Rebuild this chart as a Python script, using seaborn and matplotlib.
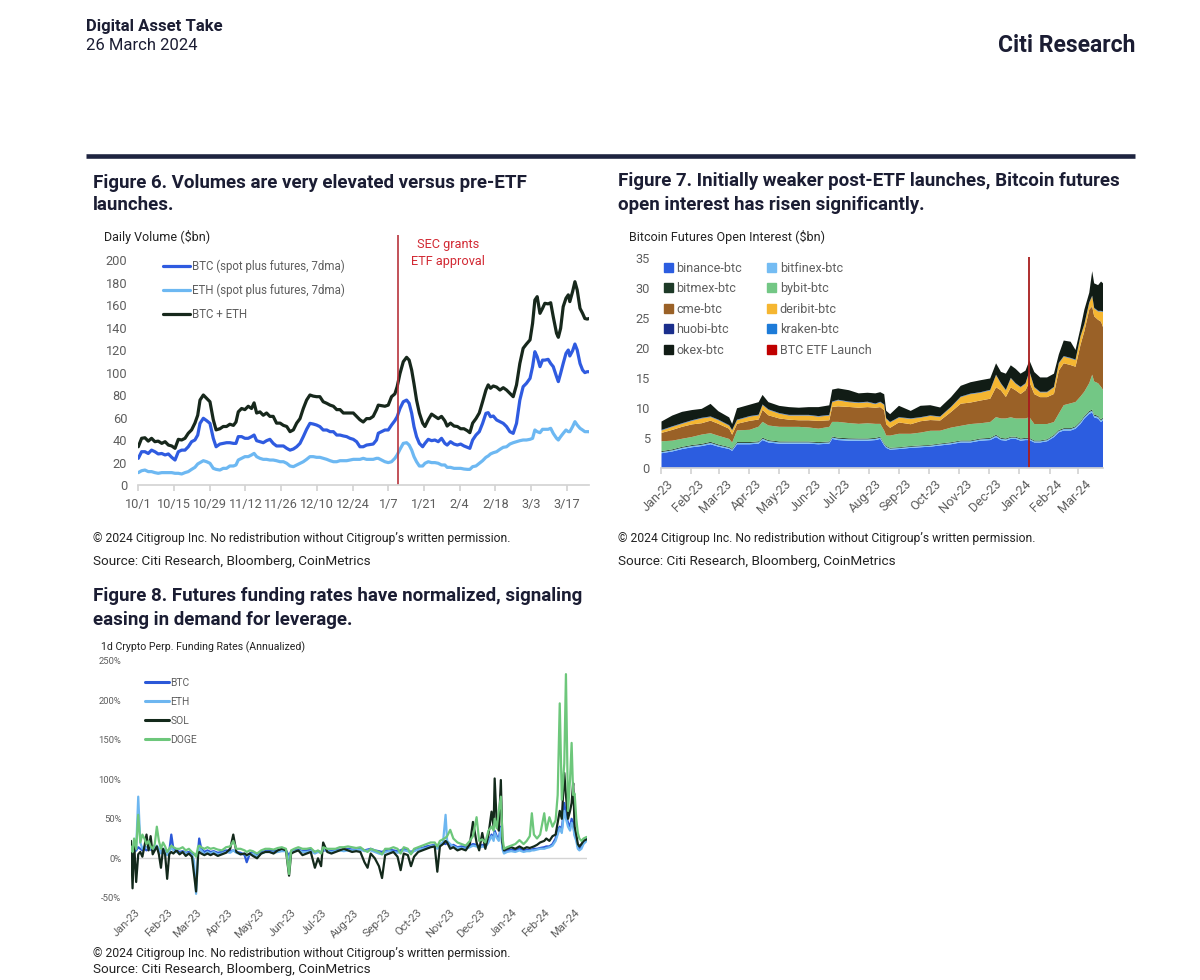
import pandas as pd
import seaborn as sns
import matplotlib.pyplot as plt
from matplotlib.lines import Line2D
from matplotlib.patches import Patch
from matplotlib.transforms import ScaledTranslation

# ---------------- Figure 6: daily volume ($bn), days since 1 Oct 2023 ----------------
vol_day = [0.0, 1.3, 2.6, 3.9, 5.2, 6.5, 7.8, 9.2, 10.5, 11.8, 13.1, 14.4, 15.7, 17.0, 18.3, 19.6,
           20.9, 22.2, 23.3, 24.2, 25.5, 26.8, 28.1, 29.4, 30.5, 32.0, 33.3, 34.6, 35.9, 37.3, 38.3,
           39.2, 40.5, 41.8, 43.1, 44.4, 45.4, 46.4, 47.7, 49.0, 50.3, 51.6, 52.9, 54.2, 55.6, 56.9,
           58.2, 59.5, 60.8, 62.1, 63.4, 64.7, 66.0, 67.3, 68.6, 69.9, 71.2, 72.5, 73.9, 75.2, 76.5,
           77.8, 79.1, 80.4, 81.7, 83.0, 84.3, 85.6, 86.9, 88.2, 89.5,
           90.8, 92.1, 93.4, 94.1, 95.4, 96.7, 98.0, 99.3, 100.6, 101.5, 102.6, 103.9, 105.2, 106.2,
           107.2, 108.1, 109.1, 110.2, 111.5, 112.4, 113.7, 115.0, 116.3, 117.6, 118.9, 120.2, 121.1,
           122.4, 123.8, 125.1, 126.4, 127.7, 129.0, 130.0, 131.1, 132.4, 133.7, 135.0, 136.3, 137.2,
           138.1, 139.2, 140.5, 141.8, 143.1, 144.4, 145.7, 147.0, 148.3, 149.6, 150.9, 152.2, 153.6,
           154.6, 155.5, 156.4, 157.5, 158.5, 159.4, 160.7, 161.7, 162.7, 164.0, 164.7, 165.6, 166.6,
           167.7, 168.6, 169.2, 170.3, 171.2, 172.1, 173.2, 174.2, 175.1, 176.0, 176.8]
vol_btc = [23.7, 29.6, 29.6, 28, 31, 29.6, 27.6, 28, 26.7, 27.6, 24.6, 22.2, 29.6, 31, 31, 34,
           38.5, 40, 44.4, 54.8, 59.3, 57.2, 54.8, 41.5, 34, 36.4, 37, 37.6, 37.6, 37, 37, 43, 43,
           41.5, 41.5, 43, 44.4, 39.4, 38.5, 37.6, 39.4, 40.6, 37, 34.7, 34.7, 34.7, 32.6, 31, 32,
           34, 37, 43, 49.5, 54.8, 54.2, 53.3, 51.9, 48.9, 48.9, 47.4, 47.4, 44.4, 44.4, 43.6, 43,
           41.5, 40.6, 38.5, 34, 34, 35.5,
           36, 36.4, 40, 46, 47.4, 48.9, 48.9, 53.3, 57.2, 60.7, 68, 74, 75.5, 72.6, 63.7, 51.9, 43,
           37, 34, 37, 40.6, 39.4, 40, 38.5, 41.5, 37, 35.5, 38.5, 36.4, 35.5, 36.4, 34.7, 33.5,
           32.6, 40, 44.4, 47.4, 54.8, 63.7, 64.3, 60.7, 61.3, 57.8, 56.3, 54.8, 51.9, 47.4, 45.9,
           54.8, 75.5, 87.4, 90.4, 94.8, 105.2, 118.5, 114, 105.2, 111, 111, 111.7, 108, 105.2,
           96.3, 91.9, 99.3, 108, 117, 120, 114.7, 119.4, 125.3, 120, 108, 102.2, 99.9, 100.7, 100.7]
vol_eth = [11, 12.7, 13.3, 11.9, 11.9, 11, 10.4, 11, 11, 11, 11, 10.4, 10.4, 9.8, 11, 11.9, 13.9,
           15.7, 18.7, 19.9, 21.6, 20.7, 19.3, 14.8, 13.9, 13.3, 14.8, 14.8, 16.9, 16.9, 17.8, 22.2,
           23.7, 25.2, 25.2, 26.7, 28.1, 25.2, 23.7, 22.8, 22.8, 22.2, 22.2, 21.6, 20.7, 20.7, 19.3,
           16.9, 16.3, 17.8, 19.3, 20.7, 22.8, 25.2, 25.2, 24.6, 24.6, 23.7, 22.8, 21.6, 20.7, 20.7,
           21.6, 21.6, 21.6, 22.2, 22.8, 22.8, 22.8, 23.7, 22.8,
           22.8, 22.8, 23.7, 23.7, 22.2, 20.7, 19.9, 20.7, 23.7, 26.7, 31.7, 37, 37.6, 35.5, 31,
           25.2, 20.7, 16.9, 16.9, 19.3, 20.7, 19.9, 19.9, 19.3, 17.8, 17.8, 15.7, 15.7, 14.8, 14.8,
           14.8, 14.2, 13.9, 13.9, 16.3, 16.9, 19.3, 21.6, 24.6, 25.8, 27.6, 28.7, 29.6, 31.7, 33.5,
           34, 36.4, 37.6, 38.5, 39.4, 40, 40, 40.6, 41.5, 48.9, 47.4, 46.5, 49.5, 49.5, 49.5, 50.4,
           45.9, 41.5, 40, 43, 45.9, 48.9, 47.4, 47.4, 51.9, 56.3, 53.3, 50.4, 48.9, 47.4, 47.4, 47.4]
vol_total = [34, 41.5, 42, 39, 41.5, 38.5, 39, 37, 38.5, 35.5, 34.7, 32.6, 40.6, 40, 41.5, 46, 49,
             55, 62, 75.5, 80, 77, 74, 58, 49, 50, 52, 52, 54, 53, 56, 65, 68, 67, 70, 68, 73, 64,
             65, 62, 64, 61, 61, 55, 55, 53, 52, 47.4, 49, 55, 59, 68, 75.5, 80, 79, 78.5, 78.5, 74,
             72.6, 71, 70, 67, 67, 64, 64, 64, 64, 61, 58, 56, 59,
             59, 61, 67, 71, 70.5, 70, 71, 78.5, 81, 87.4, 99, 109.6, 113.5, 111, 102, 90, 75.5, 64,
             55, 52, 58, 63, 61, 59, 61, 57, 52.4, 55, 52.4, 52, 50, 50, 48.3, 46.5, 55, 59, 64, 74,
             84.4, 89, 86, 88, 87, 84.4, 86.5, 84.4, 81.5, 78.5, 89, 108, 121.5, 125.3, 129, 143.7,
             164.4, 167.4, 152.6, 157, 161.5, 161, 162, 149.6, 134.8, 131.3, 139.3, 158.5, 166, 169,
             163, 172, 180.7, 173.3, 157, 152.6, 148, 147.5, 148]
vol_labels = ["BTC (spot plus futures, 7dma)", "ETH (spot plus futures, 7dma)", "BTC + ETH"]

# ---------------- Figure 7: BTC futures open interest ($bn), days since 1 Jan 2023 ----------------
oi_day = [0, 11, 21, 31, 41, 50, 58, 69, 72, 77, 90, 99, 103, 109, 120, 130, 140, 150, 160, 171,
          174, 180, 191, 201, 210, 218, 223, 227, 229, 233, 242, 254, 264, 274, 284, 295, 305, 315,
          325, 335, 341, 346, 351, 356, 361, 366, 371, 375, 380, 386, 393, 400, 405, 410, 417, 422,
          427, 431, 436, 439, 441, 445, 448, 450]
oi_binance = [2.5, 2.8, 3.2, 3.5, 3.7, 4.0, 3.6, 3.2, 2.9, 4.0, 4.0, 4.1, 4.7, 4.3, 4.1, 4.1, 4.1,
              4.1, 4.0, 4.1, 4.9, 4.7, 4.6, 4.6, 4.6, 4.7, 4.9, 3.8, 3.4, 3.1, 3.2, 3.4, 3.5, 3.6,
              3.8, 4.0, 4.3, 4.3, 4.6, 4.7, 5.2, 4.7, 4.6, 4.9, 4.9, 4.6, 4.7, 4.7, 4.3, 4.3, 4.5,
              5.2, 6.0, 6.3, 6.3, 6.6, 7.4, 8.3, 9.1, 9.3, 8.5, 8.3, 7.7, 8.0]
oi_bitfinex = [0.20, 0.20, 0.22, 0.22, 0.22, 0.24, 0.22, 0.20, 0.20, 0.22, 0.22, 0.24, 0.24, 0.24,
               0.22, 0.22, 0.22, 0.22, 0.22, 0.22, 0.24, 0.24, 0.24, 0.22, 0.22, 0.22, 0.22, 0.20,
               0.20, 0.18, 0.18, 0.18, 0.18, 0.18, 0.20, 0.20, 0.20, 0.20, 0.22, 0.22, 0.24, 0.22,
               0.22, 0.22, 0.22, 0.22, 0.22, 0.22, 0.20, 0.20, 0.20, 0.22, 0.24, 0.24, 0.24, 0.26,
               0.26, 0.28, 0.30, 0.30, 0.28, 0.28, 0.28, 0.28]
oi_bitmex = [0.15, 0.15, 0.15, 0.15, 0.15, 0.16, 0.15, 0.14, 0.14, 0.15, 0.15, 0.15, 0.16, 0.15,
             0.15, 0.14, 0.14, 0.14, 0.14, 0.14, 0.15, 0.15, 0.15, 0.14, 0.14, 0.14, 0.14, 0.13,
             0.12, 0.12, 0.12, 0.12, 0.12, 0.12, 0.12, 0.13, 0.13, 0.13, 0.14, 0.14, 0.15, 0.14,
             0.14, 0.14, 0.14, 0.14, 0.14, 0.15, 0.13, 0.13, 0.13, 0.14, 0.15, 0.15, 0.15, 0.15,
             0.16, 0.17, 0.18, 0.18, 0.17, 0.17, 0.17, 0.17]
oi_bybit = [1.65, 1.45, 1.35, 1.35, 1.55, 1.45, 1.45, 1.35, 1.05, 1.95, 2.05, 2.45, 2.65, 2.45,
            2.45, 2.45, 2.45, 2.35, 2.25, 2.45, 2.45, 2.65, 2.55, 2.45, 2.55, 2.35, 2.15, 2.15,
            1.75, 2.05, 2.25, 2.05, 2.15, 2.35, 2.15, 2.45, 2.45, 2.75, 2.55, 2.65, 2.95, 3.25,
            3.35, 3.25, 3.05, 3.35, 3.25, 3.45, 2.75, 2.75, 2.55, 2.15, 2.75, 3.85, 4.15, 4.05,
            4.15, 4.05, 4.65, 5.85, 5.55, 5.45, 5.45, 4.65]
oi_cme = [1.4, 1.8, 2.0, 2.1, 1.9, 2.1, 2.0, 1.7, 1.3, 1.1, 1.5, 1.2, 2.0, 1.7, 1.4, 1.2, 1.1, 1.2,
          1.3, 1.1, 2.5, 2.6, 2.7, 2.7, 2.7, 2.7, 2.8, 3.4, 1.9, 1.3, 1.9, 1.6, 1.9, 1.8, 1.7, 2.6,
          3.7, 3.6, 3.8, 3.9, 5.0, 4.7, 3.6, 5.0, 4.7, 4.1, 4.7, 5.9, 5.0, 4.5, 4.5, 4.7, 7.2, 7.0,
          6.4, 5.9, 8.6, 10.1, 12.3, 11.4, 10.9, 10.6, 10.9, 10.5]
oi_deribit = [0.4, 0.5, 0.5, 0.6, 0.8, 0.6, 0.6, 0.5, 0.7, 0.6, 0.7, 0.7, 0.8, 0.9, 0.8, 0.7, 0.8,
              0.8, 0.7, 0.8, 0.8, 1.0, 0.8, 0.8, 0.8, 0.6, 0.8, 0.9, 0.9, 0.9, 0.8, 0.9, 0.6, 0.7,
              0.6, 0.8, 1.1, 1.4, 1.3, 1.4, 2.0, 1.1, 1.1, 1.5, 1.1, 1.1, 1.1, 1.7, 1.1, 0.8, 0.8,
              1.1, 1.2, 1.1, 1.1, 1.1, 1.4, 1.1, 1.1, 1.7, 1.3, 1.4, 1.7, 2.5]
oi_huobi = [0.04, 0.04, 0.04, 0.04, 0.04, 0.04, 0.04, 0.04, 0.04, 0.04, 0.04, 0.04, 0.04, 0.04,
            0.04, 0.04, 0.04, 0.04, 0.04, 0.04, 0.04, 0.04, 0.04, 0.04, 0.04, 0.04, 0.04, 0.03,
            0.03, 0.03, 0.03, 0.03, 0.03, 0.03, 0.03, 0.03, 0.03, 0.03, 0.03, 0.03, 0.03, 0.03,
            0.03, 0.03, 0.03, 0.03, 0.03, 0.03, 0.03, 0.03, 0.03, 0.03, 0.03, 0.03, 0.03, 0.03,
            0.03, 0.03, 0.03, 0.03, 0.03, 0.03, 0.03, 0.03]
oi_kraken = [0.06, 0.06, 0.06, 0.06, 0.06, 0.06, 0.06, 0.06, 0.06, 0.06, 0.06, 0.06, 0.06, 0.06,
             0.06, 0.06, 0.06, 0.06, 0.06, 0.06, 0.06, 0.06, 0.06, 0.06, 0.06, 0.06, 0.06, 0.05,
             0.05, 0.05, 0.05, 0.05, 0.05, 0.05, 0.05, 0.05, 0.06, 0.06, 0.06, 0.06, 0.06, 0.06,
             0.06, 0.06, 0.06, 0.06, 0.06, 0.06, 0.06, 0.06, 0.06, 0.06, 0.06, 0.07, 0.07, 0.07,
             0.07, 0.07, 0.07, 0.07, 0.07, 0.07, 0.07, 0.07]
oi_okex = [1.4, 1.8, 1.9, 1.7, 1.5, 2.1, 1.4, 1.3, 1.0, 1.9, 1.9, 2.1, 1.6, 1.2, 1.2, 1.3, 1.2, 1.3,
           1.5, 1.6, 2.0, 1.9, 1.9, 1.5, 1.5, 1.7, 1.6, 1.7, 1.25, 1.3, 1.9, 1.25, 1.9, 1.7, 1.5,
           1.6, 1.8, 1.9, 2.0, 1.9, 1.9, 1.9, 2.7, 2.1, 2.4, 2.2, 2.1, 1.8, 2.5, 2.4, 2.4, 2.2, 1.4,
           2.6, 2.7, 1.6, 1.3, 2.4, 1.6, 4.1, 4.1, 4.3, 4.9, 4.7]
oi_names = ["binance-btc", "bitfinex-btc", "bitmex-btc", "bybit-btc", "cme-btc", "deribit-btc",
            "huobi-btc", "kraken-btc", "okex-btc"]

# ---------------- Figure 8: 1d perp funding rates (% annualized), days since 1 Jan 2023 ----------------
fund_day = [0, 1.5, 3, 5, 7, 9, 11, 13, 15, 17, 19, 21, 23, 25, 27, 29, 31, 33, 35, 37, 39, 41, 44,
            47, 50, 53, 56, 59, 61, 63, 65, 66, 68, 71, 74, 77, 80, 84, 88, 92, 96, 99, 102, 106,
            110, 112, 115, 118, 122, 126, 130, 134, 138, 142, 146, 150, 153, 155, 158, 162, 166,
            170, 174, 178, 181, 184, 186, 190, 194, 198, 202, 206, 210, 214,
            218, 222, 226, 229, 232, 236, 240, 243, 246, 250, 254, 258, 261, 264, 268, 271, 274,
            278, 282, 286, 290, 294, 296.5, 299, 302, 304.5, 306, 309, 312, 316, 320, 324, 328,
            331, 334.5, 337, 340, 343, 346, 349, 351, 352, 354, 356, 358, 359.5, 361, 364, 368,
            372, 376, 380, 383, 386, 388, 390, 393, 396, 400, 402, 405, 408, 411, 413, 415, 417,
            419.4, 421, 423, 425, 426.5, 428, 429.4, 431, 432.5, 434, 436, 438, 441]
fund_btc = [12, 10, 8, 10, 14, 12, 10, 12, 10, 12, 11, 10, 12, 14, 10, 8, 12, 10, 6, 8, 30, 12, 10,
            8, 9, 7, 8, 6, 5, 4, 10, 25, 12, 8, 10, 8, 9, 7, 8, 10, 9, 10, 8, 7, 4, -5, 6, 8, 5, 8,
            9, 10, 9, 10, 11, 10, 3, 9, 10, 11, 9, 10, 11, 8, 9, 8, 10, 10, 9, 10, 11, 10, 12, 11,
            11, 12, 10, 11, 12, 10, 9, 8, 10, 11, 10, 9, 10, 12, 10, 8, 10, 12, 13, 15, 16, 17, 14,
            18, 19, 18, 20, 16, 17, 14, 15, 14, 16, 18, 17, 15, 17, 16, 22, 30, 25, 35, 28, 25, 40,
            15, 8, 10, 11, 10, 12, 10, 11, 10, 11, 12, 12, 13, 14, 15, 15, 18, 25, 35, 40, 35, 70,
            55, 45, 40, 50, 45, 30, 25, 15, 12, 15, 20, 25]
fund_eth = [10, 12, 8, 12, 78, 20, 12, 15, 14, 12, 13, 10, 14, 16, 12, 6, 12, 8, 4, 8, 14, 10, 8,
            6, 8, 6, 6, 4, -3, -45, 8, 12, 10, 5, 8, 6, 8, 5, 6, 8, 7, 10, 7, 5, 6, 3, 5, 6, 2, 6,
            8, 8, 7, 8, 9, 9, -2, 8, 9, 10, 8, 8, 9, 6, 8, 7, 12, 9, 8, 9, 10, 9, 10, 10,
            10, 11, 9, 10, 10, 8, 6, 5, 8, 9, 8, 7, 8, 10, 9, 6, 9, 11, 12, 13, 15, 16, 12, 17,
            20, 55, 22, 18, 15, 13, 13, 12, 14, 16, 15, 13, 15, 14, 20, 28, 22, 32, 26, 22, 38,
            12, 6, 8, 9, 8, 10, 8, 9, 9, 10, 10, 11, 12, 12, 13, 14, 16, 22, 30, 38, 32, 60, 50,
            40, 35, 45, 40, 28, 22, 12, 10, 12, 18, 22]
fund_sol = [22, -38, 20, -30, 5, 8, 2, 15, 30, 10, 28, 5, 10, 15, 5, -12, 12, 5, -26, 5, 8, 6, 10,
            5, 8, 3, 6, 2, -20, -42, 5, 8, 6, 4, 6, 4, 6, 3, 5, 7, 12, 30, 8, 5, 6, 4, 6, 3, 0, 6,
            8, 8, 6, 10, 12, 10, -22, 6, 8, 10, 4, 6, 8, -12, 0, -10, 20, 8, 6, 8, 10, 12, 10, 8,
            9, 8, -5, -12, 6, 0, -10, -25, 4, 6, 8, 2, -15, 6, 4, -10, 2, 8, 10, 12, 14, 15, -17,
            15, 18, 22, 20, 12, 14, 10, 12, 10, 18, 46, 20, 10, 32, 12, 30, 59, 40, 101, 45, 35,
            99, 20, 10, 12, 14, 12, 15, 12, 14, 13, 14, 15, 17, 20, 22, 25, 22, 28, 30, 45, 60,
            50, 108, 80, 50, 60, 70, 95, 40, 30, 18, 15, 18, 22, 24]
fund_doge = [15, 8, 25, 12, 55, 20, 30, 25, 18, 22, 15, 12, 18, 40, 22, 12, 20, 15, 8, 12, 16, 14,
             12, 12, 14, 10, 12, 8, 6, 2, 15, 16, 14, 12, 14, 12, 13, 11, 10, 14, 15, 22, 12, 12,
             10, 8, 10, 9, 6, 10, 12, 12, 11, 13, 14, 12, -20, 10, 12, 14, 12, 12, 13, 8, 10, 6,
             14, 12, 12, 12, 14, 14, 15, 14,
             13, 14, 10, 8, 12, 10, 8, 5, 12, 12, 14, 12, 6, 14, 12, 5, 12, 14, 16, 18, 20, 20,
             15, 22, 24, 26, 28, 36, 25, 20, 18, 16, 22, 28, 52, 22, 24, 20, 35, 40, 35, 50, 38,
             60, 78, 28, 12, 14, 16, 18, 23, 18, 22, 28, 57, 30, 25, 30, 57, 35, 52, 40, 48, 80,
             196, 74, 120, 233, 60, 100, 146, 80, 82, 50, 32, 25, 22, 25, 27]

NAVY = "#1b1d33"
INK = "#222222"
GREY = "#5e5e5e"
AXIS = "#d4d4d4"
TITLE_SIZE = 13.5

sns.set_theme(style="white")
plt.rcParams["font.family"] = ["Roboto", "DejaVu Sans"]

W, H = 1200, 980
fig = plt.figure(figsize=(W / 100, H / 100), dpi=100)


def axes_px(left, top, right, bottom):
    return fig.add_axes([left / W, 1 - bottom / H, (right - left) / W, (bottom - top) / H])


def text_px(x, y, s, **kw):
    kw.setdefault("va", "center")
    return fig.text(x / W, 1 - y / H, s, **kw)


def rotate_labels(ax, dx):
    shift = ScaledTranslation(dx / 100, 0, fig.dpi_scale_trans)
    for lbl in ax.get_xticklabels():
        lbl.set_rotation(45)
        lbl.set_ha("right")
        lbl.set_rotation_mode("anchor")
        lbl.set_transform(lbl.get_transform() + shift)


copyright_txt = "\u00a9 2024 Citigroup Inc. No redistribution without Citigroup\u2019s written permission."
source_txt = "Source: Citi Research, Bloomberg, CoinMetrics"

# header
text_px(86, 27, "Digital Asset Take", fontsize=12, fontweight="bold", color=NAVY)
text_px(86, 46, "26 March 2024", fontsize=12, color=NAVY)
text_px(1135, 45, "Citi Research", fontsize=16.5, fontweight="bold", ha="right", color=NAVY)
fig.add_artist(Line2D([86 / W, 1135 / W], [1 - 156 / H, 1 - 156 / H], lw=3.3, color="#1e2440",
                      solid_capstyle="butt"))

# ---------------- Figure 6 ----------------
text_px(93, 183, "Figure 6. Volumes are very elevated versus pre-ETF", fontsize=TITLE_SIZE,
        fontweight="bold", color=NAVY)
text_px(93, 205, "launches.", fontsize=TITLE_SIZE, fontweight="bold", color=NAVY)
text_px(104, 237, "Daily Volume ($bn)", fontsize=9, color=INK)

vol = pd.DataFrame({
    "date": pd.Timestamp("2023-10-01") + pd.to_timedelta(vol_day, unit="D"),
    "btc": vol_btc, "eth": vol_eth, "total": vol_total,
})
vol_colors = ["#2f5be0", "#6db8f2", "#17281c"]

ax6 = axes_px(138.3, 235.25, 589.2, 485)
for col, c in zip(["btc", "eth", "total"], vol_colors):
    sns.lineplot(data=vol, x="date", y=col, ax=ax6, color=c, lw=2.3, legend=False)
ax6.axvline(pd.Timestamp("2024-01-11"), color="#b8343c", lw=1.2)
ax6.set_xlim(vol["date"].iloc[0], vol["date"].iloc[-1])
ax6.set_ylim(0, 222)
ax6.set_yticks(range(0, 201, 20))
ticks6 = pd.date_range("2023-10-01", periods=13, freq="14D")
ax6.set_xticks(ticks6)
ax6.set_xticklabels([f"{d.month}/{d.day}" for d in ticks6])
ax6.set_xlabel("")
ax6.set_ylabel("")
for side in ["top", "right", "left"]:
    ax6.spines[side].set_visible(False)
ax6.spines["bottom"].set_color(AXIS)
ax6.tick_params(axis="x", length=4, color=AXIS, pad=5, labelsize=9.2, labelcolor=GREY, bottom=True)
ax6.tick_params(axis="y", length=0, pad=8, labelsize=9.2, labelcolor=GREY)
ax6.legend([Line2D([], [], color=c, lw=2.3) for c in vol_colors], vol_labels,
           loc="upper left", bbox_to_anchor=(163 / W, 1 - 260 / H), bbox_transform=fig.transFigure,
           frameon=False, fontsize=8.3, labelcolor=GREY, handlelength=2.35, handletextpad=0.15,
           labelspacing=0.92, borderpad=0, borderaxespad=0)
text_px(448, 253, "SEC grants\nETF approval", ha="center", fontsize=9.2, color="#d22a34",
        linespacing=1.4)

text_px(93, 538, copyright_txt, fontsize=8.7, color=INK)
text_px(93, 561, source_txt, fontsize=9.7, color=INK)

# ---------------- Figure 7 ----------------
text_px(618, 181, "Figure 7. Initially weaker post-ETF launches, Bitcoin futures",
        fontsize=TITLE_SIZE, fontweight="bold", color=NAVY)
text_px(618, 205, "open interest has risen significantly.", fontsize=TITLE_SIZE,
        fontweight="bold", color=NAVY)
text_px(629, 237, "Bitcoin Futures Open Interest ($bn)", fontsize=9, color=INK)

oi_dates = pd.Timestamp("2023-01-01") + pd.to_timedelta(oi_day, unit="D")
oi_colors = ["#2c5de0", "#74bcf3", "#1d3a27", "#73c785", "#9a6127", "#f5b631", "#1a2e8c",
             "#1d7bd8", "#111c15"]
ax7 = axes_px(661, 256.5, 1102.5, 467.7)
ax7.stackplot(oi_dates, oi_binance, oi_bitfinex, oi_bitmex, oi_bybit, oi_cme, oi_deribit,
              oi_huobi, oi_kraken, oi_okex, colors=oi_colors, lw=0)
ax7.axvline(pd.Timestamp("2024-01-11"), color="#a81c1c", lw=1.3)
ax7.set_xlim(oi_dates[0], oi_dates[-1])
ax7.set_ylim(0, 35.3)
ax7.set_yticks(range(0, 36, 5))
ticks7 = pd.date_range("2023-01-01", "2024-03-01", freq="MS")
ax7.set_xticks(ticks7)
ax7.set_xticklabels([d.strftime("%b-%y") for d in ticks7])
for side in ["top", "right", "left"]:
    ax7.spines[side].set_visible(False)
ax7.spines["bottom"].set_color(AXIS)
ax7.tick_params(axis="x", length=4, color=AXIS, pad=3, labelsize=9.2, labelcolor=GREY, bottom=True)
ax7.tick_params(axis="y", length=0, pad=8, labelsize=9.2, labelcolor=GREY)
rotate_labels(ax7, 6)
oi_handles = [Patch(color=c) for c in oi_colors] + [Patch(color="#c00000")]
oi_labels = oi_names + ["BTC ETF Launch"]
order = [0, 2, 4, 6, 8, 1, 3, 5, 7, 9]
ax7.legend([oi_handles[i] for i in order], [oi_labels[i] for i in order], ncol=2,
           loc="upper left", bbox_to_anchor=(664 / W, 1 - 261.5 / H), bbox_transform=fig.transFigure,
           frameon=False, fontsize=9, labelcolor=GREY, handlelength=0.7, handleheight=0.7,
           handletextpad=0.3, columnspacing=2.0, labelspacing=0.6, borderpad=0, borderaxespad=0)

text_px(618, 538, copyright_txt, fontsize=8.7, color=INK)
text_px(618, 561, source_txt, fontsize=9.7, color=INK)

# ---------------- Figure 8 ----------------
text_px(93, 596, "Figure 8. Futures funding rates have normalized, signaling", fontsize=TITLE_SIZE,
        fontweight="bold", color=NAVY)
text_px(93, 620, "easing in demand for leverage.", fontsize=TITLE_SIZE, fontweight="bold",
        color=NAVY)
text_px(101, 647, "1d Crypto Perp. Funding Rates (Annualized)", fontsize=7.6, color=INK)

fund = pd.DataFrame({
    "date": pd.Timestamp("2023-01-01") + pd.to_timedelta(fund_day, unit="D"),
    "BTC": fund_btc, "ETH": fund_eth, "SOL": fund_sol, "DOGE": fund_doge,
})
fund_colors = {"BTC": "#2b58d8", "ETH": "#6db6f0", "SOL": "#13291b", "DOGE": "#6dc77b"}

ax8 = axes_px(131, 660.7, 586.6, 897.8)
ax8.axhline(0, color=AXIS, lw=1, zorder=0)
for name, c in fund_colors.items():
    sns.lineplot(data=fund, x="date", y=name, ax=ax8, color=c, lw=1.6, legend=False)
ax8.set_xlim(fund["date"].iloc[0], fund["date"].iloc[-1])
ax8.set_ylim(-50, 250)
ax8.set_yticks(range(-50, 251, 50))
ax8.set_yticklabels([f"{v}%" for v in range(-50, 251, 50)])
ticks8 = pd.date_range("2023-01-01", "2024-03-01", freq="MS")
ax8.set_xticks(ticks8)
ax8.set_xticklabels([d.strftime("%b-%y") for d in ticks8])
ax8.set_xlabel("")
ax8.set_ylabel("")
sns.despine(ax=ax8, left=True, bottom=True)
ax8.tick_params(axis="x", length=0, pad=7, labelsize=8, labelcolor=GREY)
ax8.tick_params(axis="y", length=0, pad=7, labelsize=6.8, labelcolor=GREY)
rotate_labels(ax8, 4)
ax8.legend([Line2D([], [], color=c, lw=2.2) for c in fund_colors.values()], list(fund_colors),
           loc="upper left", bbox_to_anchor=(145 / W, 1 - 677.5 / H), bbox_transform=fig.transFigure,
           frameon=False, fontsize=7.4, labelcolor=GREY, handlelength=2.3, handletextpad=0.15,
           labelspacing=0.88, borderpad=0, borderaxespad=0)

text_px(93, 953, copyright_txt, fontsize=8.7, color=INK)
text_px(93, 969, source_txt, fontsize=9.7, color=INK)

fig.savefig("out.png", dpi=100, facecolor="white")
